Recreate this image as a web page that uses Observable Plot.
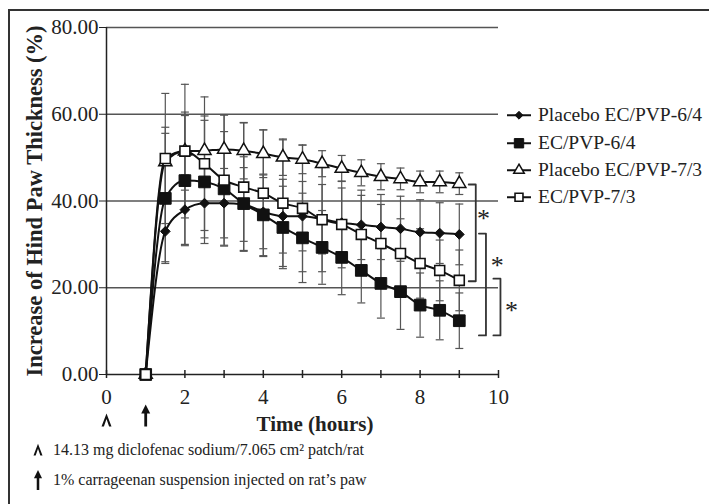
<!DOCTYPE html>
<html><head><meta charset="utf-8">
<script src="https://cdn.jsdelivr.net/npm/d3@7"></script>
<script src="https://cdn.jsdelivr.net/npm/@observablehq/plot@0.6"></script>
<style>
body{margin:0;background:#fff;}
#fig{position:relative;width:709px;height:504px;overflow:hidden;font-family:"Liberation Serif","Times New Roman",serif;color:#222;background:#fff;}
#border{position:absolute;left:8px;top:9px;width:800px;height:600px;border-top:2px solid #333;border-left:2px solid #333;box-sizing:border-box;}
#chart{position:absolute;left:0;top:0;width:709px;}
#chart svg g[aria-label="y-axis label"] text{font-weight:bold;font-size:22.5px;}
.leg{position:absolute;left:505px;width:204px;display:flex;align-items:center;font-size:19.5px;line-height:1;white-space:nowrap;color:#222;transform:translateY(-50%);}
.leg svg{margin-right:5px;flex:none;}
.xlab{position:absolute;font-weight:bold;font-size:21px;line-height:1;transform:translate(-50%,-50%);white-space:nowrap;}
.cap{position:absolute;left:30px;width:600px;display:flex;align-items:center;font-size:16px;white-space:nowrap;transform:translateY(-50%);color:#222;}
.cap svg{margin-right:6px;flex:none;}
</style>
</head><body>
<div id="fig">
  <div id="border"></div>
  <div id="chart"></div>
</div>
<script>
// ---- data ----
const times = [1, 1.5, 2, 2.5, 3, 3.5, 4, 4.5, 5, 5.5, 6, 6.5, 7, 7.5, 8, 8.5, 9];
const seriesNames = ["Placebo EC/PVP-6/4", "EC/PVP-6/4", "Placebo EC/PVP-7/3", "EC/PVP-7/3"];
const placebo64 = [0, 33, 38, 39.5, 39.5, 39.2, 37.5, 36.5, 36.5, 35.8, 35, 34.5, 34, 33.6, 32.8, 32.6, 32.3];
const ec64 = [0, 40.6, 44.7, 44.4, 42.8, 39.4, 36.8, 33.9, 31.5, 29.3, 27, 24, 21, 19.1, 16, 14.8, 12.4];
const placebo73 = [0, 49, 51.5, 51.6, 51.9, 51.6, 50.9, 50.1, 49.6, 48.6, 47.5, 46.5, 45.6, 45.1, 44.4, 44.4, 44];
const ec73 = [0, 49.8, 51.5, 48.6, 44.8, 43.2, 41.8, 39.5, 38.3, 35.7, 34.6, 32.3, 30.2, 27.9, 25.6, 24, 21.7];
const sdPlacebo64 = [0, 7, 8, 8, 8, 8.5, 8.5, 8.5, 8, 8, 8, 8, 7.5, 7.5, 7.5, 7, 7];
const sdEc64 = [0, 15, 15, 14.2, 13.2, 10.8, 9.4, 9.5, 10.3, 8.5, 8.6, 7.5, 8, 8.7, 7.4, 6.8, 6.4];
const sdPlacebo73 = [0, 8, 9, 8, 8, 6.5, 5.5, 4.2, 3.3, 3, 3, 3, 3, 2.5, 2.5, 2.5, 2.5];
const sdEc73 = [0, 15, 15.4, 15.4, 15, 14.8, 14.6, 14.6, 14.6, 12, 10, 9, 9, 8, 8, 7, 7];
const yTicks = [0, 20, 40, 60, 80];
const xMinorTicks = [0, 1, 2, 3, 4, 5, 6, 7, 8, 9, 10];
const xLabelTicks = [0, 2, 4, 6, 8, 10];
const events = [{t: 0, kind: "patch"}, {t: 1, kind: "carrageenan"}];
// significance brackets (top value, bottom value, hour of vertical line, star position)
const brackets = [
  {id: "a", top: 43.8, bottom: 21.5, x: 9.42, sx: 9.62, sy: 36.0},
  {id: "b", top: 32.5, bottom: 9.0, x: 9.68, sx: 9.97, sy: 25.2},
  {id: "c", top: 22.1, bottom: 9.0, x: 10.05, sx: 10.33, sy: 14.8}
];
const yLabel = "Increase of Hind Paw Thickness (%)";
const xLabel = "Time (hours)";
const captions = ["14.13 mg diclofenac sodium/7.065 cm\u00b2 patch/rat", "1% carrageenan suspension injected on rat\u2019s paw"];

const values = [placebo64, ec64, placebo73, ec73];
const sds = [sdPlacebo64, sdEc64, sdPlacebo73, sdEc73];
const rows = [];
seriesNames.forEach((s, i) => times.forEach((t, j) => rows.push({series: s, t, v: values[i][j], sd: sds[i][j]})));
const bars = rows.filter(d => d.sd > 0);
const bracketPts = brackets.flatMap(b => [
  {id: b.id, x: b.x - 0.18, y: b.top}, {id: b.id, x: b.x, y: b.top},
  {id: b.id, x: b.x, y: b.bottom}, {id: b.id, x: b.x - 0.18, y: b.bottom}
]);

// ---- custom symbols ----
const capSym = {draw(ctx, size) { const r = Math.sqrt(size / Math.PI); ctx.moveTo(-r, 0); ctx.lineTo(r, 0); }};
const caretPts = [[0,-7],[5,6],[2.6,6],[0,-1.5],[-2.6,6],[-5,6]];
const arrowPts = [[0,-11],[4.5,-2],[1.4,-2],[1.4,11],[-1.4,11],[-1.4,-2],[-4.5,-2]];
const polySym = pts => ({draw(ctx) { ctx.moveTo(...pts[0]); pts.slice(1).forEach(p => ctx.lineTo(...p)); ctx.closePath(); }});
const caretSym = polySym(caretPts), arrowSym = polySym(arrowPts);

const styles = [
  {symbol: "diamond2", fill: "#111", stroke: "#111", r: 4.4, sw: 1},
  {symbol: "square", fill: "#111", stroke: "#111", r: 6.6, sw: 1},
  {symbol: "triangle", fill: "#fff", stroke: "#111", r: 4.9, sw: 1.5},
  {symbol: "square", fill: "#fff", stroke: "#111", r: 5.6, sw: 1.6}
];

const marks = [
  Plot.ruleY(yTicks.filter(d => d > 0), {y: d => d, stroke: "#555", strokeWidth: 1.4}),
  Plot.ruleX([0], {x: d => d, stroke: "#222", strokeWidth: 1.5}),
  Plot.ruleY([0], {y: d => d, stroke: "#222", strokeWidth: 1.5}),
  Plot.ruleX(xMinorTicks, {x: d => d, y1: 0, y2: 0, insetTop: -4, insetBottom: -4, stroke: "#222", strokeWidth: 1.5}),
  Plot.axisY({ticks: yTicks, tickFormat: d => d.toFixed(2), tickSize: 7, tickPadding: 1, fill: "#222",
    label: yLabel, labelAnchor: "center", labelArrow: "none", labelOffset: 80}),
  Plot.axisX({ticks: xLabelTicks, tickSize: 0, tickPadding: 15, fill: "#222", label: null}),
  Plot.ruleX(bars, {x: "t", y1: d => d.v - d.sd, y2: d => d.v + d.sd, stroke: "#555", strokeWidth: 1.2}),
  Plot.dot(bars, {x: "t", y: d => d.v + d.sd, symbol: capSym, r: 4, stroke: "#555", strokeWidth: 1.2}),
  Plot.dot(bars, {x: "t", y: d => d.v - d.sd, symbol: capSym, r: 4, stroke: "#555", strokeWidth: 1.2})
];
seriesNames.forEach((s, i) => {
  const data = rows.filter(d => d.series === s);
  const st = styles[i];
  marks.push(Plot.line(data, {x: "t", y: "v", stroke: "#111", strokeWidth: 2, curve: "monotone-x"}));
  marks.push(Plot.dot(data, {x: "t", y: "v", symbol: st.symbol, r: st.r, fill: st.fill, stroke: st.stroke, strokeWidth: st.sw}));
});
marks.push(
  Plot.line(bracketPts, {x: "x", y: "y", z: "id", stroke: "#333", strokeWidth: 1.8}),
  Plot.text(brackets, {x: "sx", y: "sy", text: () => "*", fontSize: 26, fill: "#222", fontFamily: "Liberation Serif"}),
  Plot.dot(events.filter(e => e.kind === "patch"), {x: "t", frameAnchor: "bottom", dy: 46, symbol: caretSym, fill: "#111", stroke: "none"}),
  Plot.dot(events.filter(e => e.kind === "carrageenan"), {x: "t", frameAnchor: "bottom", dy: 41, symbol: arrowSym, fill: "#111", stroke: "none"})
);

const chart = Plot.plot({
  width: 709, height: 440,
  marginLeft: 106, marginRight: 211, marginTop: 27, marginBottom: 66,
  x: {domain: [0, 10]},
  y: {domain: [0, 80]},
  style: {fontFamily: "Liberation Serif, Times New Roman, serif", fontSize: "21px", color: "#222", background: "transparent", overflow: "visible"},
  marks
});
document.getElementById("chart").appendChild(chart);

const fig = document.getElementById("fig");
// x label
const xl = document.createElement("div");
xl.className = "xlab"; xl.textContent = xLabel; xl.style.left = "315px"; xl.style.top = "424px";
fig.appendChild(xl);

// legend
const legY = [115, 143, 170, 197];
seriesNames.forEach((s, i) => {
  const st = styles[i];
  const div = document.createElement("div");
  div.className = "leg"; div.style.top = legY[i] + "px";
  const svg = d3.create("svg").attr("width", 28).attr("height", 18);
  svg.append("line").attr("x1", 2).attr("x2", 26).attr("y1", 9).attr("y2", 9).attr("stroke", "#111").attr("stroke-width", 2);
  const type = {diamond2: d3.symbolDiamond2, square: d3.symbolSquare, triangle: d3.symbolTriangle}[st.symbol];
  const r = st.r * 0.8;
  svg.append("path").attr("transform", "translate(14,9)").attr("d", d3.symbol(type, Math.PI * r * r)())
    .attr("fill", st.fill).attr("stroke", st.stroke).attr("stroke-width", st.sw);
  div.appendChild(svg.node());
  const span = document.createElement("span"); span.textContent = s; div.appendChild(span);
  fig.appendChild(div);
});

// captions
[[caretPts, 450], [arrowPts, 480]].forEach(([pts, y], i) => {
  const div = document.createElement("div");
  div.className = "cap"; div.style.top = y + "px";
  const svg = d3.create("svg").attr("width", 17).attr("height", 24);
  svg.append("path").attr("transform", "translate(8,12) scale(0.9)")
    .attr("d", "M" + pts.map(p => p.join(",")).join("L") + "Z").attr("fill", "#111");
  div.appendChild(svg.node());
  const span = document.createElement("span"); span.textContent = captions[i]; div.appendChild(span);
  fig.appendChild(div);
});
</script>
</body></html>
